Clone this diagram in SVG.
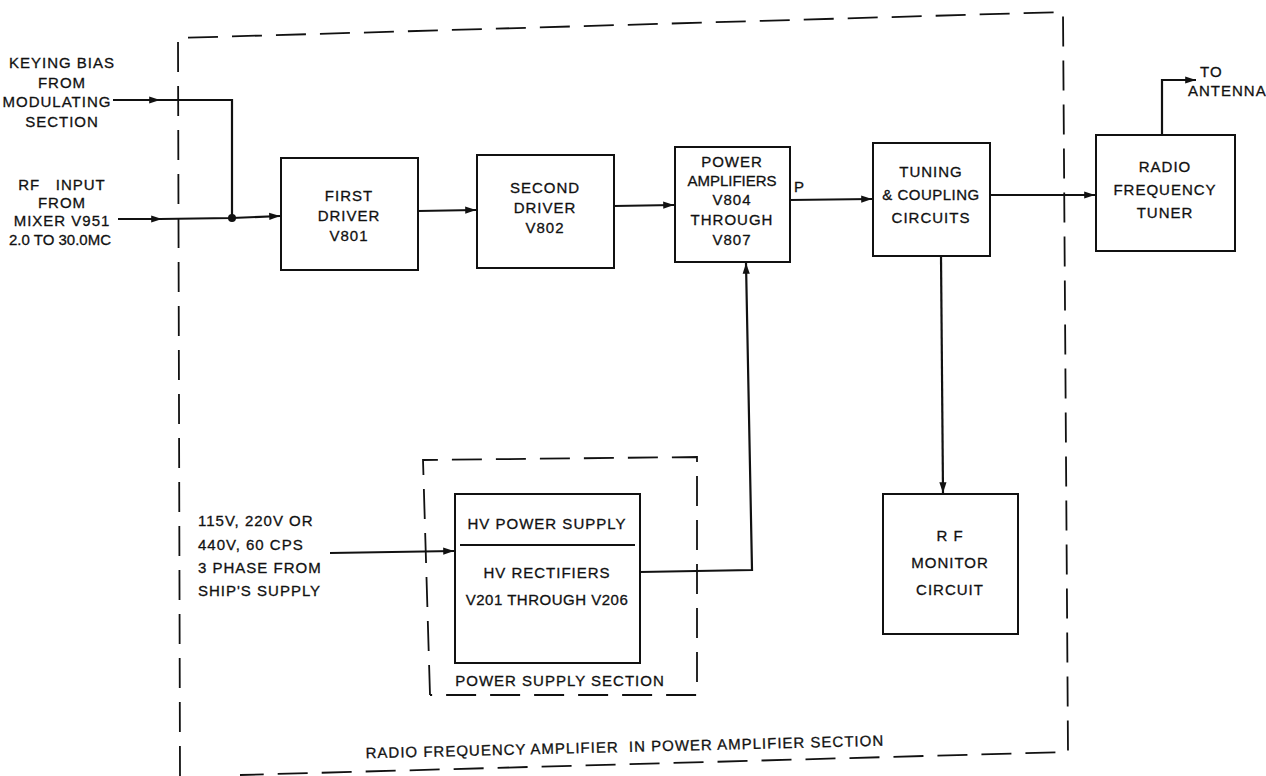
<svg xmlns="http://www.w3.org/2000/svg" width="1266" height="776" viewBox="0 0 1266 776">
<style>
.t{font-family:"Liberation Sans",Arial,sans-serif;font-size:15px;fill:#111;stroke:#111;stroke-width:0.3px;letter-spacing:1px}
.m{text-anchor:middle}
.pre{white-space:pre}
.box{fill:none;stroke:#111;stroke-width:2}
.dash{fill:none;stroke:#111;stroke-width:1.8;stroke-dasharray:30 14}
.ln{fill:none;stroke:#111;stroke-width:2.2}
</style>
<defs>
<marker id="ah" viewBox="0 0 12 10" refX="12" refY="5" markerWidth="12" markerHeight="9" markerUnits="userSpaceOnUse" orient="auto">
<path d="M0,1 L12,5 L0,9 z" fill="#111"/>
</marker>
</defs>
<rect width="1266" height="776" fill="#fff"/>

<g id="outer-section">
<path class="dash" d="M180 776 L178 38 L1063 12 L1068 752 L240 775"/>
<text class="t pre" x="625" y="752" text-anchor="middle" transform="rotate(-1.4 625 752)">RADIO FREQUENCY AMPLIFIER  IN POWER AMPLIFIER SECTION</text>
</g>

<g id="keying-input">
<text class="t m" x="62" y="68">KEYING BIAS</text>
<text class="t m" x="62" y="88">FROM</text>
<text class="t m" x="57" y="107">MODULATING</text>
<text class="t m" x="62" y="127">SECTION</text>
</g>

<g id="rf-input">
<text class="t m pre" x="62" y="190">RF   INPUT</text>
<text class="t m" x="62" y="208">FROM</text>
<text class="t m" x="62" y="226">MIXER V951</text>
<text class="t m" x="60" y="245" style="letter-spacing:0">2.0 TO 30.0MC</text>
</g>

<g id="first-driver">
<rect class="box" x="281" y="158" width="137" height="112"/>
<text class="t m" x="349" y="201">FIRST</text>
<text class="t m" x="349" y="221">DRIVER</text>
<text class="t m" x="349" y="241">V801</text>
</g>

<g id="second-driver">
<rect class="box" x="477" y="155" width="137" height="113"/>
<text class="t m" x="545" y="193">SECOND</text>
<text class="t m" x="545" y="213">DRIVER</text>
<text class="t m" x="545" y="233">V802</text>
</g>

<g id="power-amplifiers">
<rect class="box" x="675" y="147" width="115" height="115"/>
<text class="t m" x="732" y="167">POWER</text>
<text class="t m" x="732" y="186" style="letter-spacing:0">AMPLIFIERS</text>
<text class="t m" x="732" y="205">V804</text>
<text class="t m" x="732" y="225">THROUGH</text>
<text class="t m" x="732" y="245">V807</text>
</g>

<g id="tuning-coupling">
<rect class="box" x="873" y="143" width="117" height="113"/>
<text class="t m" x="931" y="177">TUNING</text>
<text class="t m" x="931" y="200" style="letter-spacing:0.5px">&amp; COUPLING</text>
<text class="t m" x="931" y="223">CIRCUITS</text>
</g>

<g id="rf-tuner">
<rect class="box" x="1096" y="135" width="139" height="116"/>
<text class="t m" x="1165" y="172">RADIO</text>
<text class="t m" x="1165" y="195">FREQUENCY</text>
<text class="t m" x="1165" y="218">TUNER</text>
</g>

<g id="antenna">
<text class="t" x="1200" y="77">TO</text>
<text class="t" x="1188" y="96">ANTENNA</text>
</g>

<g id="rf-monitor">
<rect class="box" x="883" y="494" width="135" height="140"/>
<text class="t m" x="950" y="541">R F</text>
<text class="t m" x="950" y="568">MONITOR</text>
<text class="t m" x="950" y="595">CIRCUIT</text>
</g>

<g id="power-supply-section">
<path class="dash" d="M430 695 L423 460 L697 457 L697 695 L430 695"/>
<rect class="box" x="455" y="494" width="185" height="169"/>
<text class="t m" x="547" y="529">HV POWER SUPPLY</text>
<line x1="460" y1="545" x2="635" y2="545" stroke="#111" stroke-width="2"/>
<text class="t m" x="547" y="578">HV RECTIFIERS</text>
<text class="t m" x="547" y="605" style="letter-spacing:0.5px">V201 THROUGH V206</text>
<text class="t m" x="560" y="686">POWER SUPPLY SECTION</text>
</g>

<g id="ac-input">
<text class="t" x="198" y="526">115V, 220V OR</text>
<text class="t" x="198" y="550">440V, 60 CPS</text>
<text class="t" x="198" y="573">3 PHASE FROM</text>
<text class="t" x="198" y="596">SHIP'S SUPPLY</text>
</g>

<g id="connectors">
<path class="ln" d="M113 100 L160 100" marker-end="url(#ah)"/>
<path class="ln" d="M158 100 L232 100 L232 218"/>
<path class="ln" d="M118 219 L162 219" marker-end="url(#ah)"/>
<path class="ln" d="M160 219 L232 218 L280 216" marker-end="url(#ah)"/>
<circle cx="232" cy="218" r="4" fill="#111"/>
<path class="ln" d="M418 211 L476 210" marker-end="url(#ah)"/>
<path class="ln" d="M614 206 L674 205" marker-end="url(#ah)"/>
<text class="t" x="794" y="192">P</text>
<path class="ln" d="M790 200 L872 199" marker-end="url(#ah)"/>
<path class="ln" d="M990 195 L1095 195" marker-end="url(#ah)"/>
<path class="ln" d="M1162 135 L1162 80 L1196 80" marker-end="url(#ah)"/>
<path class="ln" d="M941 256 L943 493" marker-end="url(#ah)"/>
<path class="ln" d="M330 553 L454 551" marker-end="url(#ah)"/>
<path class="ln" d="M640 572 L752 570 L746 263" marker-end="url(#ah)"/>
</g>
</svg>
